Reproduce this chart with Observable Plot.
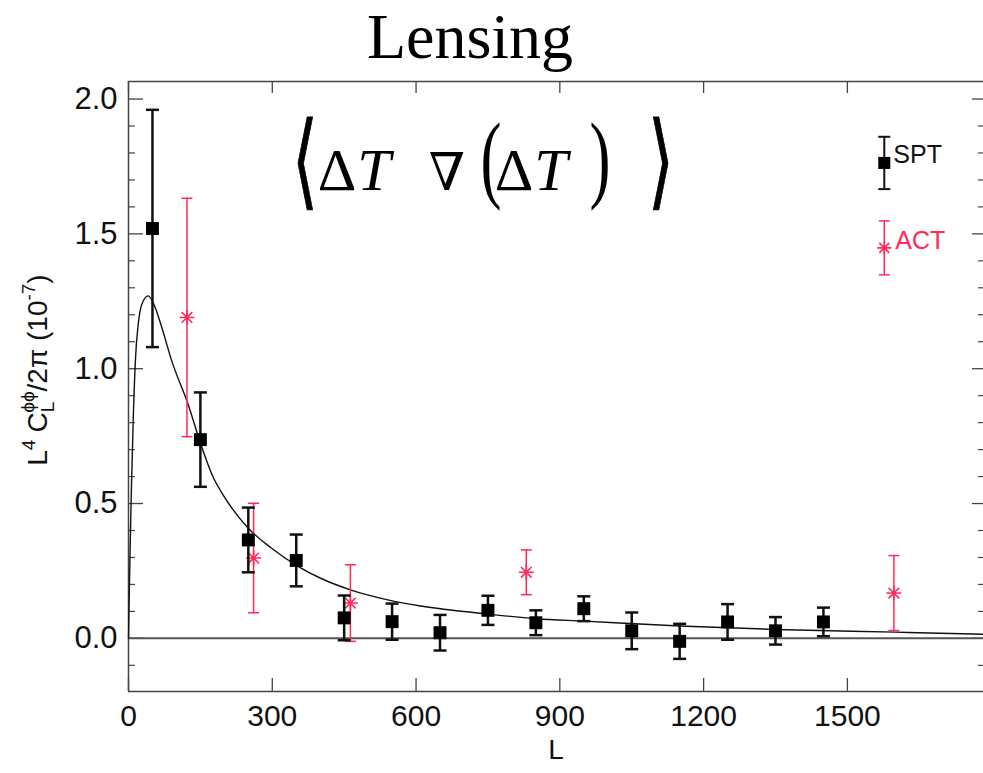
<!DOCTYPE html>
<html><head><meta charset="utf-8">
<script src="https://cdn.jsdelivr.net/npm/d3@7"></script>
<script src="https://cdn.jsdelivr.net/npm/@observablehq/plot@0.6"></script>
<style>html,body{margin:0;padding:0;background:#fff;} #chart svg{display:block;}</style>
</head><body><div id="chart"></div>
<script>
// ---- data ----
const sptL   = [50, 150, 250, 350, 450, 550, 650, 750, 850, 950, 1050, 1150, 1250, 1350, 1450];
const sptY   = [1.52, 0.737, 0.365, 0.289, 0.076, 0.062, 0.021, 0.104, 0.058, 0.110, 0.028, -0.011, 0.061, 0.028, 0.061];
const sptErr = [0.44, 0.175, 0.12, 0.096, 0.083, 0.067, 0.066, 0.054, 0.046, 0.046, 0.068, 0.065, 0.066, 0.051, 0.053];

const actL   = [122, 261, 463, 830, 1597];
const actY   = [1.19, 0.298, 0.131, 0.245, 0.168];
const actErr = [0.442, 0.203, 0.142, 0.083, 0.139];

const theoryL = [0, 3, 6, 10, 15, 20, 28, 41, 55, 70, 90, 124, 150, 176, 200, 249, 298, 351, 402, 463, 541, 610, 751, 850, 950, 1150, 1350, 1600, 1784];
const theoryY = [0, 0.30, 0.55, 0.82, 1.05, 1.16, 1.24, 1.27, 1.23, 1.15, 1.03, 0.87, 0.725, 0.60, 0.525, 0.41, 0.335, 0.27, 0.222, 0.18, 0.143, 0.12, 0.09, 0.073, 0.064, 0.046, 0.033, 0.023, 0.015];

const legendNames = ["SPT", "ACT"];
const legendL   = [1577, 1577];
const legendY   = [1.763, 1.448];
const legendErr = [0.097, 0.10];

const xTicks = [0, 300, 600, 900, 1200, 1500];
const yMajor = [0, 0.5, 1.0, 1.5, 2.0];
const yMinor = [-0.1, 0.1, 0.2, 0.3, 0.4, 0.6, 0.7, 0.8, 0.9, 1.1, 1.2, 1.3, 1.4, 1.6, 1.7, 1.8, 1.9];
const xDomain = [0, 1784];
const yDomain = [-0.197, 2.065];

// ---- tables ----
const spt = sptL.map((L, i) => ({L, y: sptY[i], e: sptErr[i]}));
const act = actL.map((L, i) => ({L, y: actY[i], e: actErr[i]}));
const theory = theoryL.map((L, i) => ({L, y: theoryY[i]}));
const legend = legendNames.map((name, i) => ({name, L: legendL[i], y: legendY[i], e: legendErr[i]}));

const RED = "#ff2a5a";
const W = 983, H = 773, ML = 128, MR = 0, MT = 81, MB = 82;
const PW = W - ML - MR, PH = H - MT - MB;

const capSymbol = {draw(ctx, size) { const r = Math.sqrt(size / Math.PI); ctx.moveTo(-r, 0); ctx.lineTo(r, 0); }};
const starSymbol = {draw(ctx, size) {
  const r = Math.sqrt(size / Math.PI);
  for (let i = 0; i < 4; i++) { const a = i * Math.PI / 4, c = Math.cos(a) * r, s = Math.sin(a) * r; ctx.moveTo(-c, -s); ctx.lineTo(c, s); }
}};

const sptLeg = legend.filter(d => d.name === "SPT");
const actLeg = legend.filter(d => d.name === "ACT");

const svg = Plot.plot({
  width: W, height: H,
  marginLeft: ML, marginRight: MR, marginTop: MT, marginBottom: MB,
  style: {fontFamily: "'Liberation Sans', Arial, Helvetica, sans-serif", background: "#fff", color: "#111"},
  x: {domain: xDomain, axis: null},
  y: {domain: yDomain, axis: null},
  marks: [
    // frame (left, top, bottom)
    Plot.ruleX([xDomain[0]], {stroke: "#444", strokeWidth: 1.5}),
    Plot.ruleY([yDomain[0], yDomain[1]], {stroke: "#444", strokeWidth: 1.5}),
    // inward ticks
    Plot.tickY(yMajor, {insetRight: PW - 15, stroke: "#444", strokeWidth: 1.3}),
    Plot.tickY(yMinor, {insetRight: PW - 7, stroke: "#444", strokeWidth: 1.2}),
    Plot.tickY(yMajor, {insetLeft: PW - 11, stroke: "#444", strokeWidth: 1.3}),
    Plot.tickY(yMinor, {insetLeft: PW - 5, stroke: "#444", strokeWidth: 1.2}),
    Plot.tickX(xTicks, {insetTop: PH - 13, stroke: "#444", strokeWidth: 1.3}),
    Plot.tickX(xTicks, {insetBottom: PH - 12, stroke: "#444", strokeWidth: 1.3}),
    // tick labels
    Plot.axisY({ticks: yMajor, tickFormat: d => d.toFixed(1), tickSize: 0, tickPadding: 11, fontSize: 31, label: null}),
    Plot.axisX({ticks: xTicks, tickFormat: d => String(d), tickSize: 0, tickPadding: 13, fontSize: 30, label: null}),
    Plot.text(["L"], {frameAnchor: "bottom", dy: 67, fontSize: 28, fill: "#111"}),
    // zero line
    Plot.ruleY([0], {stroke: "#555", strokeWidth: 2}),
    // theory curve
    Plot.line(theory, {x: "L", y: "y", curve: "monotone-x", stroke: "#111", strokeWidth: 1.4}),
    // ACT
    Plot.ruleX(act, {x: "L", y1: d => d.y - d.e, y2: d => d.y + d.e, stroke: RED, strokeWidth: 1.5}),
    Plot.dot(act, {x: "L", y: d => d.y + d.e, symbol: capSymbol, r: 5.5, stroke: RED, strokeWidth: 1.5}),
    Plot.dot(act, {x: "L", y: d => d.y - d.e, symbol: capSymbol, r: 5.5, stroke: RED, strokeWidth: 1.5}),
    Plot.dot(act, {x: "L", y: "y", symbol: starSymbol, r: 7.5, stroke: RED, strokeWidth: 1.6}),
    // SPT
    Plot.ruleX(spt, {x: "L", y1: d => d.y - d.e, y2: d => d.y + d.e, stroke: "#111", strokeWidth: 2.5}),
    Plot.dot(spt, {x: "L", y: d => d.y + d.e, symbol: capSymbol, r: 6.5, stroke: "#111", strokeWidth: 2.5}),
    Plot.dot(spt, {x: "L", y: d => d.y - d.e, symbol: capSymbol, r: 6.5, stroke: "#111", strokeWidth: 2.5}),
    Plot.dot(spt, {x: "L", y: "y", symbol: "square", r: 7.3, fill: "#000"}),
    // legend
    Plot.ruleX(sptLeg, {x: "L", y1: d => d.y - d.e, y2: d => d.y + d.e, stroke: "#111", strokeWidth: 2}),
    Plot.dot(sptLeg, {x: "L", y: d => d.y + d.e, symbol: capSymbol, r: 6, stroke: "#111", strokeWidth: 2}),
    Plot.dot(sptLeg, {x: "L", y: d => d.y - d.e, symbol: capSymbol, r: 6, stroke: "#111", strokeWidth: 2}),
    Plot.dot(sptLeg, {x: "L", y: "y", symbol: "square", r: 6.8, fill: "#000"}),
    Plot.text(sptLeg, {x: "L", y: "y", text: "name", textAnchor: "start", dx: 9, dy: -8, fontSize: 25, fill: "#111"}),
    Plot.ruleX(actLeg, {x: "L", y1: d => d.y - d.e, y2: d => d.y + d.e, stroke: RED, strokeWidth: 1.5}),
    Plot.dot(actLeg, {x: "L", y: d => d.y + d.e, symbol: capSymbol, r: 5.5, stroke: RED, strokeWidth: 1.5}),
    Plot.dot(actLeg, {x: "L", y: d => d.y - d.e, symbol: capSymbol, r: 5.5, stroke: RED, strokeWidth: 1.5}),
    Plot.dot(actLeg, {x: "L", y: "y", symbol: starSymbol, r: 7, stroke: RED, strokeWidth: 1.6}),
    Plot.text(actLeg, {x: "L", y: "y", text: "name", textAnchor: "start", dx: 11, dy: -7, fontSize: 25, fill: RED})
  ]
});

const s = d3.select(svg);
// Title
s.append("text").attr("x", 470).attr("y", 58).attr("text-anchor", "middle")
  .attr("font-family", "'Liberation Serif', 'Times New Roman', serif").attr("font-size", 64).attr("fill", "#000")
  .text("Lensing");

// Formula  ⟨ΔT ∇(ΔT)⟩  — one text element, one tspan per glyph
const serif = "'Liberation Serif', 'Times New Roman', serif";
const angleFont = "'DejaVu Serif', 'DejaVu Sans', serif";
const f = s.append("text").attr("fill", "#000").attr("font-family", serif);
function glyph(ch, x, y, size, opts = {}) {
  const t = f.append("tspan").attr("x", x).attr("y", y).attr("font-size", size).text(ch);
  if (opts.family) t.attr("font-family", opts.family);
  if (opts.len) t.attr("textLength", opts.len).attr("lengthAdjust", "spacingAndGlyphs");
  if (opts.italic) t.attr("font-style", "italic");
  if (opts.sw) t.attr("stroke", "#000").attr("stroke-width", opts.sw);
  return t;
}
glyph("\u27E8", 305, 196, 104, {family: angleFont, len: 26, sw: 1.0});
glyph("\u0394", 337, 190, 60);
glyph("T", 374, 190, 60, {italic: true});
glyph("\u2207", 447, 190, 52, {family: "'Liberation Serif', 'DejaVu Serif', serif"});
glyph("(", 491, 190, 98, {len: 21});
glyph("\u0394", 514, 190, 60);
glyph("T", 551, 190, 60, {italic: true});
glyph(")", 600, 190, 98, {len: 21});
glyph("\u27E9", 661, 196, 104, {family: angleFont, len: 26, sw: 1.0});

// Y-axis label  L^4 C_L^{φφ}/2π (10^-7)
const yl = s.append("text")
  .attr("transform", "translate(47,370) rotate(-90)")
  .attr("text-anchor", "middle")
  .attr("font-family", "'Liberation Sans', Arial, sans-serif").attr("font-size", 28).attr("fill", "#111");
yl.append("tspan").text("L");
yl.append("tspan").attr("dy", -12).attr("font-size", 19).text("4");
yl.append("tspan").attr("dy", 12).attr("dx", 7).text("C");
yl.append("tspan").attr("dy", 7).attr("font-size", 19).text("L");
yl.append("tspan").attr("dx", -11).attr("dy", -20).attr("font-size", 19).text("\u03D5\u03D5");
yl.append("tspan").attr("dy", 13).text("/2\u03C0 (10");
yl.append("tspan").attr("dy", -12).attr("font-size", 19).text("-7");
yl.append("tspan").attr("dy", 12).text(")");

document.getElementById("chart").appendChild(svg);
</script></body></html>
